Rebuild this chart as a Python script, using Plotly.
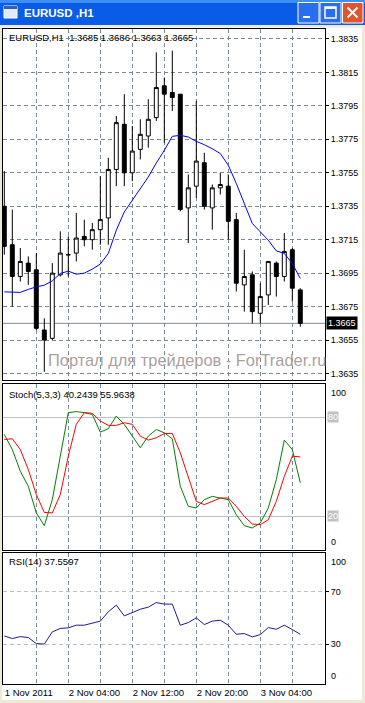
import pandas as pd
import plotly.graph_objects as go

W, H = 365, 703

# ---------------- data ----------------
times = pd.date_range("2011-11-01 20:00", periods=38, freq="h")

open_ = [1.3735, 1.3712, 1.3693, 1.3701, 1.3697, 1.3661, 1.3656, 1.3694, 1.3706, 1.3707,
         1.3717, 1.3715, 1.3721, 1.3728, 1.3757, 1.3784, 1.3755, 1.3769, 1.3777, 1.3788,
         1.3807, 1.3803, 1.3802, 1.3734, 1.3747, 1.3761, 1.3734, 1.3746, 1.3747, 1.3727,
         1.3688, 1.3694, 1.3671, 1.3682, 1.3701, 1.3693, 1.3709, 1.3685]
high = [1.3756, 1.3733, 1.3710, 1.3705, 1.3707, 1.3668, 1.3701, 1.3720, 1.3717, 1.3731,
        1.3727, 1.3725, 1.3753, 1.3764, 1.3789, 1.3802, 1.3783, 1.3787, 1.3799, 1.3827,
        1.3812, 1.3828, 1.3802, 1.3754, 1.3798, 1.3767, 1.3748, 1.3755, 1.3754, 1.3731,
        1.3709, 1.3696, 1.3689, 1.3702, 1.3702, 1.3719, 1.3710, 1.3686]
low = [1.3706, 1.3675, 1.3690, 1.3688, 1.3661, 1.3636, 1.3655, 1.3693, 1.3693, 1.3702,
       1.3711, 1.3709, 1.3712, 1.3712, 1.3747, 1.3747, 1.3750, 1.3763, 1.3770, 1.3786,
       1.3773, 1.3792, 1.3732, 1.3713, 1.3740, 1.3733, 1.3721, 1.3742, 1.3715, 1.3684,
       1.3672, 1.3665, 1.3665, 1.3676, 1.3681, 1.3690, 1.3678, 1.3663]
close = [1.3711, 1.3693, 1.3702, 1.3696, 1.3662, 1.3655, 1.3695, 1.3707, 1.3706, 1.3716,
         1.3715, 1.3721, 1.3727, 1.3757, 1.3785, 1.3755, 1.3768, 1.3778, 1.3787, 1.3806,
         1.3802, 1.3800, 1.3733, 1.3746, 1.3762, 1.3735, 1.3746, 1.3748, 1.3726, 1.3689,
         1.3693, 1.3672, 1.3681, 1.3702, 1.3693, 1.3708, 1.3686, 1.3665]

ma = [1.36838, 1.36838, 1.36835, 1.36853, 1.36868, 1.36878, 1.36904, 1.36948, 1.36962, 1.36944,
      1.36950, 1.36974, 1.37004, 1.37068, 1.37207, 1.37316, 1.37386, 1.37456, 1.37525, 1.37609,
      1.37684, 1.37768, 1.37774, 1.37764, 1.37738, 1.37718, 1.37694, 1.37665, 1.37595, 1.37486,
      1.37366, 1.37247, 1.37197, 1.37147, 1.37083, 1.37068, 1.37008, 1.36918]

stoch_main = [69.5, 60.4, 47.3, 38.2, 22.1, 14.4, 30.1, 57.4, 82.7, 83.3,
              82.7, 81.6, 70.9, 73.0, 80.6, 75.6, 68.5, 61.5, 68.5, 72.5,
              70.5, 66.9, 38.2, 26.1, 25.1, 30.1, 32.1, 31.1, 30.1, 21.0,
              14.4, 13.0, 16.0, 25.1, 42.2, 66.1, 60.4, 40.2439]
stoch_signal = [66.5, 66.9, 60.4, 48.3, 33.2, 22.4, 22.1, 33.2, 56.4, 75.6,
                82.7, 82.3, 77.6, 75.0, 75.0, 76.6, 75.6, 68.5, 66.1, 67.5,
                70.1, 70.1, 58.4, 43.3, 29.1, 27.1, 29.1, 31.1, 31.1, 26.1,
                20.0, 15.4, 15.0, 18.0, 29.1, 44.2, 56.4, 55.9638]
rsi = [36.3, 34.3, 35.8, 35.1, 30.5, 30.1, 39.4, 42.0, 42.5, 44.5,
       44.5, 45.8, 47.6, 54.7, 59.8, 51.6, 54.2, 56.7, 58.3, 61.8,
       60.6, 60.6, 44.5, 46.5, 50.1, 45.0, 47.6, 48.3, 44.5, 37.6,
       38.1, 35.6, 37.3, 42.7, 41.4, 44.5, 41.2, 37.5597]

price_ticks = [1.3635, 1.3655, 1.3675, 1.3695, 1.3715, 1.3735, 1.3755, 1.3775, 1.3795, 1.3815, 1.3835]
time_tick_idx = [0, 8, 16, 24, 32]
grid_idx = [4, 8, 12, 16, 20, 24, 28, 32, 36]
time_labels = ["1 Nov 2011", "2 Nov 04:00", "2 Nov 12:00", "2 Nov 20:00", "3 Nov 04:00"]
symbol = "EURUSD,H1"
window_title = "EURUSD ,H1"
watermark = "Портал для трейдеров - ForTrader.ru"

# ---------------- styles ----------------
GRID = "#778899"
DASH = "4px,3px"
FONT = "Liberation Sans"


def py(p):
    return 1 - p / H


def px(p):
    return p / W


x_dom = [px(3), px(325)]
x_start = times[0] - pd.Timedelta(minutes=9, seconds=45)
x_end = x_start + pd.Timedelta(hours=40.25)
xr = [x_start.strftime("%Y-%m-%d %H:%M:%S"), x_end.strftime("%Y-%m-%d %H:%M:%S")]

fig = go.Figure()
fig.add_trace(go.Candlestick(
    x=times, open=open_, high=high, low=low, close=close,
    xaxis="x", yaxis="y",
    increasing=dict(line=dict(color="black", width=1), fillcolor="white"),
    decreasing=dict(line=dict(color="black", width=1), fillcolor="black"),
    whiskerwidth=0, showlegend=False, hoverinfo="skip"))
fig.add_trace(go.Scatter(x=times, y=ma, mode="lines", xaxis="x", yaxis="y",
                         line=dict(color="#0000ff", width=1), showlegend=False, hoverinfo="skip"))
fig.add_trace(go.Scatter(x=times, y=stoch_main, mode="lines", xaxis="x2", yaxis="y2",
                         line=dict(color="#008000", width=1), showlegend=False, hoverinfo="skip"))
fig.add_trace(go.Scatter(x=times, y=stoch_signal, mode="lines", xaxis="x2", yaxis="y2",
                         line=dict(color="#ff0000", width=1), showlegend=False, hoverinfo="skip"))
fig.add_trace(go.Scatter(x=times, y=rsi, mode="lines", xaxis="x3", yaxis="y3",
                         line=dict(color="#1c1c8c", width=1), showlegend=False, hoverinfo="skip"))

tick_times = [times[i] for i in time_tick_idx]
grid_times = [times[i] for i in grid_idx]


def xaxis(anchor, labels):
    d = dict(domain=x_dom, anchor=anchor, range=xr, type="date",
             showgrid=False,
             showline=True, linecolor="black", linewidth=1, mirror=True, zeroline=False,
             tickmode="array", tickvals=tick_times, ticktext=time_labels,
             showticklabels=labels, ticks="",
             minor=dict(tickmode="array", tickvals=grid_times, showgrid=True,
                        gridcolor=GRID, griddash=DASH, gridwidth=1, ticks=""),
             fixedrange=True)
    if labels:
        d.update(ticklabelposition="outside right",
                 tickfont=dict(family=FONT, size=9.5, color="black"))
    return d


xa1 = xaxis("y", False)
xa1["rangeslider"] = dict(visible=False)

price_top = 1.384127
price_bot = 1.363112

fig.update_layout(
    width=W, height=H, margin=dict(l=0, r=0, t=0, b=0),
    paper_bgcolor="white", plot_bgcolor="white",
    showlegend=False, hovermode=False,
    xaxis=xa1,
    xaxis2=xaxis("y2", False),
    xaxis3=xaxis("y3", True),
    yaxis=dict(domain=[py(380), py(28.5)], anchor="x", side="right", range=[price_bot, price_top],
               tickmode="array", tickvals=price_ticks, ticktext=[f"{v:.4f}" for v in price_ticks],
               ticks="outside", ticklen=3, tickcolor="black",
               tickfont=dict(family=FONT, size=9, color="black"),
               showgrid=True, gridcolor=GRID, griddash=DASH, gridwidth=1,
               showline=True, linecolor="black", mirror=True, zeroline=False, fixedrange=True),
    yaxis2=dict(domain=[py(549.5), py(384)], anchor="x2", side="right", range=[0, 100],
                tickmode="array", tickvals=[20, 80], showticklabels=False, ticks="",
                showgrid=True, gridcolor="#c0c0c0", gridwidth=1,
                showline=True, linecolor="black", mirror=True, zeroline=False, fixedrange=True),
    yaxis3=dict(domain=[py(683.5), py(552.5)], anchor="x3", side="right", range=[0, 100],
                tickmode="array", tickvals=[30, 70], ticktext=["30", "70"],
                ticks="outside", ticklen=3, tickcolor="black",
                tickfont=dict(family=FONT, size=9, color="black"),
                showgrid=True, gridcolor="#c0c0c0", griddash=DASH, gridwidth=1,
                showline=True, linecolor="black", mirror=True, zeroline=False, fixedrange=True),
)

ann = []
hdr_font = dict(family=FONT, size=9.5, color="black")
ann.append(dict(x=px(7), y=py(37.5), xref="paper", yref="paper", xanchor="left", yanchor="middle",
                showarrow=False, font=hdr_font,
                text=f"{symbol}  {open_[-1]:.4f} {high[-1]:.4f} {low[-1]:.4f} {close[-1]:.4f}"))
ann.append(dict(x=px(7), y=py(395), xref="paper", yref="paper", xanchor="left", yanchor="middle",
                showarrow=False, font=hdr_font,
                text=f"Stoch(5,3,3) {stoch_main[-1]:.4f} {stoch_signal[-1]:.4f}"))
ann.append(dict(x=px(7), y=py(561.5), xref="paper", yref="paper", xanchor="left", yanchor="middle",
                showarrow=False, font=hdr_font, text=f"RSI(14) {rsi[-1]:.4f}"))
# watermark
ann.append(dict(x=px(46), y=py(360), xref="paper", yref="paper", xanchor="left", yanchor="middle",
                showarrow=False, text=watermark,
                font=dict(family=FONT, size=16.4, color="#ab9f9f")))
# current price label
ann.append(dict(x=px(326), y=close[-1], xref="paper", yref="y", xanchor="left", yanchor="middle",
                showarrow=False, text=f"{close[-1]:.4f}", bgcolor="black", borderpad=1,
                font=dict(family=FONT, size=9, color="white")))
small = dict(family=FONT, size=9, color="black")
# stoch scale labels
for val, anchor, shift in [(100, "top", -2), (0, "bottom", 1)]:
    ann.append(dict(x=px(329), y=val, xref="paper", yref="y2", xanchor="left", yanchor=anchor,
                    yshift=shift, showarrow=False, text=str(val), font=small))
for val in [80, 20]:
    ann.append(dict(x=px(327), y=val, xref="paper", yref="y2", xanchor="left", yanchor="middle",
                    showarrow=False, text=str(val), bgcolor="#c0c0c0", borderpad=0,
                    font=dict(family=FONT, size=9, color="white")))
for val, anchor, shift in [(100, "top", -2), (0, "bottom", 1)]:
    ann.append(dict(x=px(329), y=val, xref="paper", yref="y3", xanchor="left", yanchor=anchor,
                    yshift=shift, showarrow=False, text=str(val), font=small))
# window title
ann.append(dict(x=px(22), y=py(12.5), xref="paper", yref="paper", xanchor="left", yanchor="middle",
                showarrow=False, text=f"<b>{window_title}</b>",
                font=dict(family=FONT, size=11.5, color="white")))
fig.update_layout(annotations=ann)

shapes = []
# current price line
shapes.append(dict(type="line", xref="paper", yref="y", x0=x_dom[0], x1=x_dom[1],
                   y0=close[-1], y1=close[-1], line=dict(color="#7d8b99", width=1), layer="below"))
# window chrome
shapes.append(dict(type="rect", xref="paper", yref="paper", x0=0, x1=1, y0=py(25), y1=1,
                   fillcolor="#0a5ce6", line=dict(width=0), layer="above"))
shapes.append(dict(type="rect", xref="paper", yref="paper", x0=0, x1=1, y0=py(3), y1=1,
                   fillcolor="#3d8ef5", line=dict(width=0), layer="above"))
shapes.append(dict(type="rect", xref="paper", yref="paper", x0=0, x1=1, y0=py(27.5), y1=py(25),
                   fillcolor="#ece9d8", line=dict(width=0), layer="above"))
shapes.append(dict(type="rect", xref="paper", yref="paper", x0=0, x1=px(2), y0=0, y1=py(25),
                   fillcolor="#ece9d8", line=dict(width=0), layer="above"))
shapes.append(dict(type="rect", xref="paper", yref="paper", x0=px(362), x1=1, y0=0, y1=py(25),
                   fillcolor="#ece9d8", line=dict(width=0), layer="above"))
shapes.append(dict(type="rect", xref="paper", yref="paper", x0=0, x1=1, y0=0, y1=py(700),
                   fillcolor="#ece9d8", line=dict(width=0), layer="above"))
# icon
shapes.append(dict(type="rect", xref="paper", yref="paper", x0=px(4), x1=px(17), y0=py(18), y1=py(6),
                   fillcolor="#dfe9f7", line=dict(color="#ffffff", width=1), layer="above"))
shapes.append(dict(type="rect", xref="paper", yref="paper", x0=px(4), x1=px(17), y0=py(9), y1=py(6),
                   fillcolor="#3b5fb0", line=dict(width=0), layer="above"))
# buttons
for x0, x1, col in [(298, 319, "#2a6ef0"), (320, 341, "#2a6ef0"), (342.5, 363, "#e0552e")]:
    shapes.append(dict(type="rect", xref="paper", yref="paper", x0=px(x0), x1=px(x1),
                       y0=py(23), y1=py(2.5), fillcolor=col, line=dict(color="white", width=1),
                       layer="above"))
shapes.append(dict(type="rect", xref="paper", yref="paper", x0=px(303), x1=px(310), y0=py(18), y1=py(16),
                   fillcolor="white", line=dict(width=0), layer="above"))
shapes.append(dict(type="rect", xref="paper", yref="paper", x0=px(325), x1=px(336), y0=py(18), y1=py(7),
                   fillcolor="rgba(0,0,0,0)", line=dict(color="white", width=1.5), layer="above"))
shapes.append(dict(type="line", xref="paper", yref="paper", x0=px(325), x1=px(336), y0=py(8), y1=py(8),
                   line=dict(color="white", width=2), layer="above"))
shapes.append(dict(type="line", xref="paper", yref="paper", x0=px(347.5), x1=px(357.5), y0=py(7.5), y1=py(17.5),
                   line=dict(color="white", width=2), layer="above"))
shapes.append(dict(type="line", xref="paper", yref="paper", x0=px(347.5), x1=px(357.5), y0=py(17.5), y1=py(7.5),
                   line=dict(color="white", width=2), layer="above"))
fig.update_layout(shapes=shapes)

fig.write_html("out.html", config={"displayModeBar": False, "staticPlot": True})
